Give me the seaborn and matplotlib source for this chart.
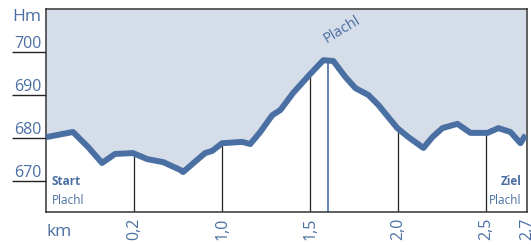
import numpy as np
import pandas as pd
import seaborn as sns
from matplotlib import pyplot as plt

# Elevation profile (km, Hm)
km = [0.0, 0.153, 0.239, 0.318, 0.392, 0.494, 0.574, 0.665, 0.761, 0.778,
      0.903, 0.943, 1.0, 1.114, 1.159, 1.216, 1.284, 1.330, 1.403, 1.5,
      1.574, 1.631, 1.699, 1.756, 1.83, 1.886, 1.994, 2.057, 2.142, 2.193,
      2.25, 2.335, 2.409, 2.506, 2.568, 2.636, 2.693, 2.722]
hm = [680.2, 681.4, 677.9, 674.2, 676.3, 676.5, 675.1, 674.4, 672.6, 672.1,
      676.5, 677.0, 678.8, 679.1, 678.6, 681.4, 685.3, 686.5, 690.5, 694.9,
      698.1, 697.9, 694.2, 691.6, 690.0, 687.7, 682.3, 680.2, 677.7, 680.2,
      682.3, 683.3, 681.2, 681.2, 682.3, 681.4, 678.8, 680.7]

x_ticks = [0.5, 1.0, 1.5, 2.0, 2.5, 2.73]
x_labels = ['0,2', '1,0', '1,5', '2,0', '2,5', '2,7']
y_ticks = [670, 680, 690, 700]
y_labels = ['670', '680', '690', '700']
marker_km = [0.5, 1.0, 1.5, 2.0, 2.5]
peak_km = 1.6

blue = '#4a6fa3'
fill = '#d5dde9'

df = pd.DataFrame({'km': km, 'hm': hm})

sns.set_style('white')
plt.rcParams['font.family'] = ['Open Sans', 'DejaVu Sans']

fig = plt.figure(figsize=(5.31, 2.45), dpi=100)
ax = fig.add_axes([46 / 531, 33 / 245, 481 / 531, 203 / 245])

y_top = 710
ax.fill_between(df['km'], df['hm'], y_top, color=fill, lw=0, zorder=1)

# vertical markers from the base to the profile
base = 662.8
ax.vlines(marker_km, base, np.interp(marker_km, km, hm), color='#222222', lw=0.9, zorder=2)
ax.vlines(peak_km, base, np.interp(peak_km, km, hm), color=blue, lw=1.2, zorder=2)

sns.lineplot(data=df, x='km', y='hm', color=blue, lw=4.3, ax=ax, zorder=3,
             solid_joinstyle='round', solid_capstyle='butt')

ax.set_xlim(0, 2.73)
ax.set_ylim(base, y_top)
ax.set_xlabel('')
ax.set_ylabel('')

ax.set_yticks(y_ticks)
ax.set_yticklabels(y_labels, color=blue, fontsize=11.5, va='bottom')
ax.tick_params(axis='y', direction='out', length=24.5, width=1, color='#222222',
               pad=-21, left=True)
ax.set_xticks(x_ticks)
ax.set_xticklabels(x_labels, color=blue, fontsize=11.5, rotation=90, va='top')
ax.tick_params(axis='x', length=0, pad=4)

for s in ax.spines.values():
    s.set_color('#333333')
    s.set_linewidth(1.1)

# texts
fig.text(12 / 531, 1 - 17 / 245, 'Hm', color=blue, fontsize=12.5, va='center', ha='left')
fig.text(46 / 531, 1 - 232 / 245, 'km', color=blue, fontsize=12.5, va='center', ha='left')

ax.text(0.012, 0.12, 'Start', transform=ax.transAxes, color=blue, fontsize=8.5,
        fontweight='bold', ha='left', va='bottom')
ax.text(0.012, 0.025, 'Plachl', transform=ax.transAxes, color=blue, fontsize=8.5,
        ha='left', va='bottom')
ax.text(0.988, 0.12, 'Ziel', transform=ax.transAxes, color=blue, fontsize=8.5,
        fontweight='bold', ha='right', va='bottom')
ax.text(0.988, 0.025, 'Plachl', transform=ax.transAxes, color=blue, fontsize=8.5,
        ha='right', va='bottom')
ax.text(1.68, 705.3, 'Plachl', color=blue, fontsize=10.5, rotation=31,
        ha='center', va='center')

fig.savefig('out.png', dpi=100)
